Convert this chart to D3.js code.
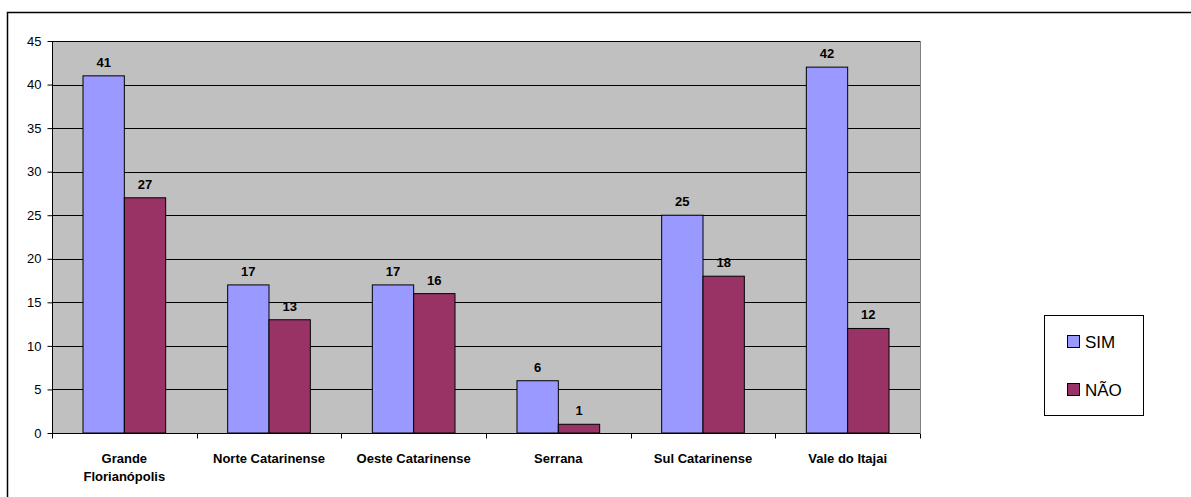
<!DOCTYPE html>
<html><head><meta charset="utf-8">
<script src="https://cdn.jsdelivr.net/npm/d3@7"></script>
<style>body{margin:0;background:#fff}svg{display:block;font-family:"Liberation Sans",Arial,sans-serif}</style>
</head><body>
<script>
const categories = [["Grande","Florianópolis"],["Norte Catarinense"],["Oeste Catarinense"],["Serrana"],["Sul Catarinense"],["Vale do Itajai"]];
const seriesNames = ["SIM","NÃO"];
const sim = [41,17,17,6,25,42];
const nao = [27,13,16,1,18,12];
const yTicks = [0,5,10,15,20,25,30,35,40,45];
const colors = ["#9999FF","#993366"];

const W=1191,H=497;
const svg=d3.select("body").append("svg").attr("width",W).attr("height",H);
svg.append("rect").attr("x",7.5).attr("y",12.5).attr("width",W).attr("height",H).attr("fill","none").attr("stroke","#000").attr("stroke-width",1.5);

const L=52,R=920,T=41,B=433;
const x=d3.scaleBand().domain(d3.range(categories.length)).range([L,R]).paddingInner(0).paddingOuter(0);
const y=d3.scaleLinear().domain([0,45]).range([B,T]);
svg.append("rect").attr("x",L).attr("y",T).attr("width",R-L).attr("height",B-T).attr("fill","#C0C0C0");
svg.append("g").selectAll("line").data(yTicks.filter(d=>d>0)).join("line")
 .attr("x1",L).attr("x2",R).attr("y1",d=>Math.round(y(d))+0.5).attr("y2",d=>Math.round(y(d))+0.5).attr("stroke","#000").attr("stroke-width",1);
svg.append("line").attr("x1",R+0.5).attr("x2",R+0.5).attr("y1",T).attr("y2",B).attr("stroke","#808080");

const bw = x.bandwidth()/ (2+1.5);
const x1=d3.scaleBand().domain([0,1]).range([0,2*bw]);
const data=[sim,nao];
data.forEach((vals,si)=>{
  const g=svg.append("g");
  g.selectAll("rect").data(vals).join("rect")
   .attr("x",(d,i)=>x(i)+(x.bandwidth()-2*bw)/2+x1(si))
   .attr("y",d=>y(d)).attr("width",bw).attr("height",d=>B-y(d))
   .attr("fill",colors[si]).attr("stroke","#000").attr("stroke-width",1);
  g.selectAll("text").data(vals).join("text")
   .attr("x",(d,i)=>x(i)+(x.bandwidth()-2*bw)/2+x1(si)+bw/2)
   .attr("y",d=>y(d)-9).attr("text-anchor","middle")
   .attr("font-size",13).attr("font-weight","bold").text(d=>d);
});

const ya=svg.append("g").attr("transform",`translate(${L+0.5},0)`)
 .call(d3.axisLeft(y).tickValues(yTicks).tickSize(5).tickPadding(6));
ya.select(".domain").attr("d",`M0,${T}V${B}`);
ya.selectAll("text").attr("font-size",13).attr("font-family","Liberation Sans, Arial, sans-serif").attr("fill","#000");
const xa=svg.append("g").attr("transform",`translate(0,${B+0.5})`);
xa.append("line").attr("x1",L).attr("x2",R).attr("stroke","#000");
xa.selectAll("line.t").data(d3.range(categories.length+1)).join("line").attr("class","t")
 .attr("x1",i=>Math.round(L+i*x.bandwidth())+0.5).attr("x2",i=>Math.round(L+i*x.bandwidth())+0.5).attr("y1",0).attr("y2",5).attr("stroke","#000");
xa.selectAll("text").data(categories).join("text")
 .attr("x",(d,i)=>x(i)+x.bandwidth()/2).attr("y",29).attr("text-anchor","middle")
 .attr("font-size",13).attr("font-weight","bold")
 .each(function(d){const t=d3.select(this);d.forEach((s,k)=>t.append("tspan").attr("x",t.attr("x")).attr("dy",k?18:0).text(s));});

const lg=svg.append("g");
lg.append("rect").attr("x",1044.5).attr("y",315.5).attr("width",99).attr("height",100).attr("fill","#fff").attr("stroke","#000");
seriesNames.forEach((n,i)=>{
  lg.append("rect").attr("x",1067.5).attr("y",335.5+i*48).attr("width",12).attr("height",12).attr("fill",colors[i]).attr("stroke","#000");
  lg.append("text").attr("x",1085).attr("y",348+i*48).attr("font-size",17).text(n);
});
</script>
</body></html>
